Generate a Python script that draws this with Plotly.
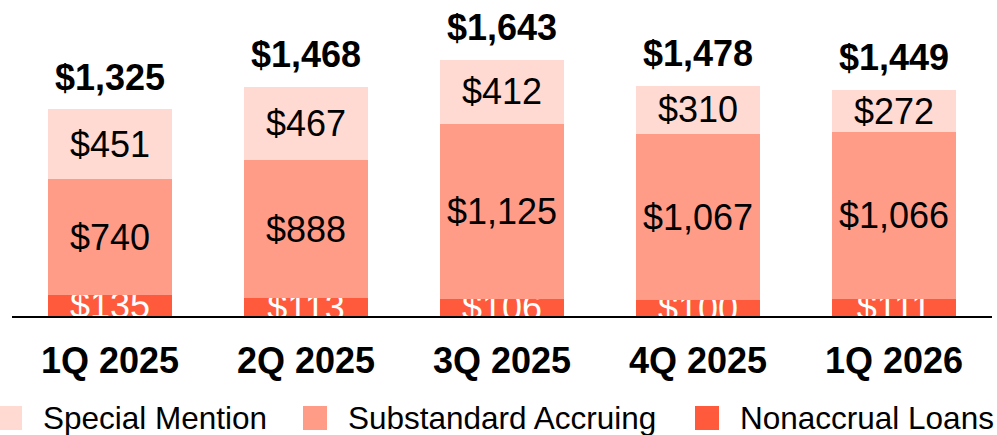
import plotly.graph_objects as go

categories = ["1Q 2025", "2Q 2025", "3Q 2025", "4Q 2025", "1Q 2026"]
nonaccrual = [135, 113, 106, 100, 111]
substandard = [740, 888, 1125, 1067, 1066]
special = [451, 467, 412, 310, 272]
totals = [1325, 1468, 1643, 1478, 1449]

series_names = ["Special Mention", "Substandard Accruing", "Nonaccrual Loans"]
colors = {"Special Mention": "#FFDAD3", "Substandard Accruing": "#FF9C88", "Nonaccrual Loans": "#FF5A3C"}
text_colors = {"Special Mention": "black", "Substandard Accruing": "black", "Nonaccrual Loans": "white"}

FONT = "Arial, Liberation Sans, sans-serif"
W, H = 997, 435
ML, MR, MT, MB = 12, 5, 0, 119
PW, PH = W - ML - MR, H - MT - MB

fig = go.Figure()
for name, vals in [("Nonaccrual Loans", nonaccrual), ("Substandard Accruing", substandard), ("Special Mention", special)]:
    fig.add_trace(go.Bar(
        x=categories, y=vals, name=name,
        marker=dict(color=colors[name], line=dict(width=0)),
        text=[f"${v:,}" for v in vals],
        textposition="inside", insidetextanchor="middle",
        textangle=0, constraintext="none", cliponaxis=True,
        insidetextfont=dict(family=FONT, size=36, color=text_colors[name]),
        showlegend=False, hoverinfo="skip",
    ))

for c, t in zip(categories, totals):
    fig.add_annotation(x=c, y=t, text=f"${t:,}", showarrow=False, yanchor="middle",
                       yshift=32, font=dict(family=FONT, size=36, color="black", weight="bold"))

def px_x(p):
    return (p - ML) / PW

def px_y(p):
    return (H - MB - p) / PH

# Legend (manual, to match large square swatches)
legend_items = [("Special Mention", -2), ("Substandard Accruing", 303), ("Nonaccrual Loans", 695)]
for name, left in legend_items:
    fig.add_shape(type="rect", xref="paper", yref="paper",
                  x0=px_x(left), x1=px_x(left + 24), y0=px_y(430), y1=px_y(406),
                  fillcolor=colors[name], line=dict(width=0), layer="above")
    fig.add_annotation(xref="paper", yref="paper", x=px_x(left + 43), y=px_y(418),
                       text=name, showarrow=False, xanchor="left", yanchor="middle",
                       font=dict(family=FONT, size=31.5, color="black"))

fig.update_layout(
    width=W, height=H,
    margin=dict(l=ML, r=MR, t=MT, b=MB),
    barmode="stack", bargap=0.367,
    plot_bgcolor="white", paper_bgcolor="white",
    showlegend=False,
    xaxis=dict(showline=True, linecolor="black", linewidth=2, ticks="", showgrid=False,
               tickfont=dict(family=FONT, size=36, color="black", weight="bold"),
               ticklabelstandoff=12,
               automargin=False, range=[-0.5, 4.5], fixedrange=True),
    yaxis=dict(visible=False, range=[0, 2025], showgrid=False, zeroline=False,
               automargin=False, fixedrange=True),
)

fig.write_html("out.html", config={"displayModeBar": False},
               post_script="document.body.style.margin='0';document.body.style.overflow='hidden';")
